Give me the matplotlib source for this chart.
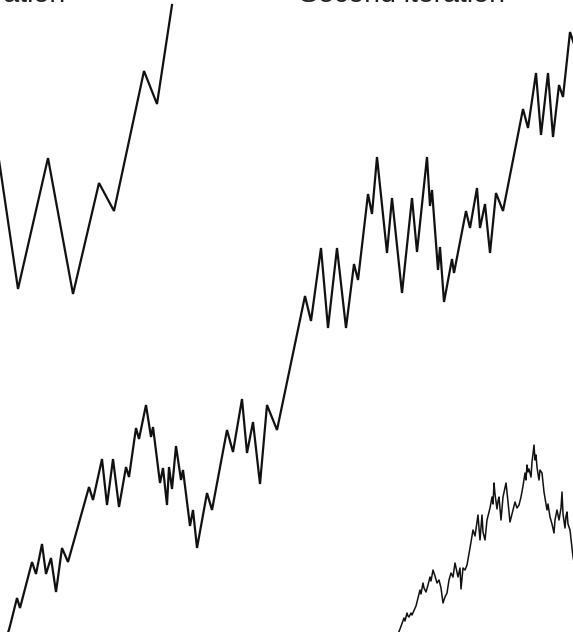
import matplotlib
matplotlib.use("Agg")
import matplotlib.pyplot as plt

# first iteration of the cartoon (generator)
gen_x = [-5, 18, 48, 73, 99, 114, 144, 157, 172]
gen_y = [499, 343, 474, 338, 449, 421, 561, 528, 627]

# second iteration
it2_x = [8, 10, 17, 20, 32, 36, 42, 46, 51, 56, 62, 68, 89, 93, 102, 107, 113, 119, 126, 129,
         136, 139, 146, 151, 153, 160, 163, 167, 169, 172, 176, 181, 183, 190, 193, 197, 207, 212,
         227, 233, 242, 247, 253, 260, 267, 277, 305, 311, 321, 328, 337, 346, 354, 358, 368, 372,
         377, 387, 392, 402, 412, 417, 427, 430, 432, 438, 440, 444, 452, 454, 466, 470, 477, 480,
         485, 490, 496, 503, 523, 528, 536, 541, 548, 553, 559, 563, 570, 576]
it2_y = [-1, 6, 34, 24, 70, 58, 88, 58, 74, 40, 84, 70, 145, 132, 173, 127, 173, 125, 165, 155,
         204, 193, 227, 195, 205, 149, 164, 127, 165, 143, 186, 152, 162, 106, 122, 84, 139, 122,
         202, 180, 233, 179, 210, 148, 227, 202, 336, 311, 384, 304, 384, 304, 368, 352, 438, 418,
         475, 379, 434, 339, 434, 380, 475, 426, 442, 362, 385, 330, 373, 359, 421, 404, 444, 404,
         428, 379, 439, 421, 523, 504, 559, 497, 559, 495, 547, 535, 600, 582]

# third iteration
it3_x = [398, 400, 404, 405, 407, 408, 409, 411, 412, 416, 420, 421, 423, 424, 426, 428, 430, 431,
         433, 435, 437, 439, 441, 443, 445, 447, 449, 451, 453, 455, 458, 460, 461, 463, 465, 467,
         470, 473, 475, 478, 479, 480, 482, 483, 485, 487, 490, 492, 493, 494, 495, 497, 498, 499,
         501, 503, 506, 507, 508, 510, 513, 515, 517, 519, 521, 523, 525, 526, 527, 528, 529, 531,
         532, 533, 534, 535, 536, 537, 538, 539, 540, 542, 544, 547, 548, 550, 552, 554, 555, 557,
         559, 561, 562, 563, 565, 566, 567, 568, 570, 573, 576]
it3_y = [-2, 3, 14, 11, 19, 16, 15, 19, 17, 26, 42, 38, 49, 44, 40, 47, 55, 51, 62, 56, 49, 52,
         44, 29, 35, 39, 52, 59, 55, 69, 55, 64, 43, 64, 62, 67, 84, 102, 96, 117, 104, 92, 117,
         100, 92, 112, 124, 135, 128, 149, 138, 123, 131, 135, 112, 135, 149, 140, 130, 110, 122,
         130, 124, 127, 135, 146, 159, 152, 167, 160, 163, 155, 170, 178, 187, 172, 177, 165, 158,
         152, 162, 159, 140, 122, 128, 115, 108, 99, 112, 122, 112, 124, 140, 118, 104, 116, 120,
         108, 102, 75, 60]

fig = plt.figure(figsize=(5.73, 6.32), dpi=100)
ax = fig.add_axes([0, 0, 1, 1])
ax.plot(gen_x, gen_y, color="#111111", lw=1.6, solid_joinstyle="miter")
ax.plot(it2_x, it2_y, color="#111111", lw=1.6, solid_joinstyle="miter")
ax.plot(it3_x, it3_y, color="#111111", lw=1.1)
ax.set_xlim(0, 573)
ax.set_ylim(0, 632)
ax.axis("off")

fig.text(65 / 573, 1 - 2 / 632, "First iteration", ha="right", va="baseline",
         fontsize=20.5, family="Liberation Sans", color="#222222")
fig.text(402 / 573, 1 - 2 / 632, "Second iteration", ha="center", va="baseline",
         fontsize=20.5, family="Liberation Sans", color="#222222")

fig.savefig("out.png", dpi=100)
